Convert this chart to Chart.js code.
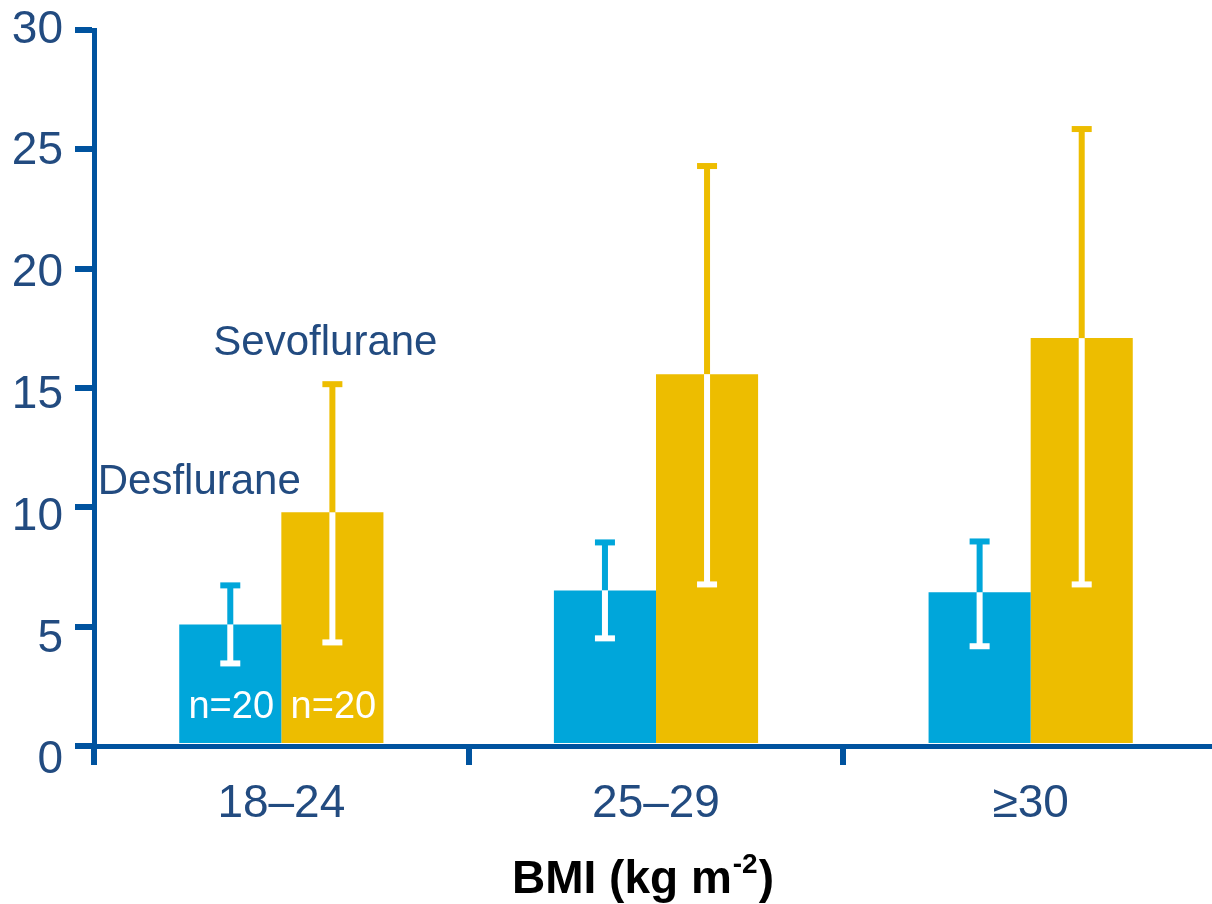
<!DOCTYPE html>
<html>
<head>
<meta charset="utf-8">
<script src="https://cdn.jsdelivr.net/npm/chart.js@4.4.1/dist/chart.umd.min.js"></script>
<style>
  html, body { margin: 0; padding: 0; background: #fff; overflow: hidden; }
  #wrap { width: 1212px; height: 904px; overflow: hidden; }
</style>
</head>
<body>
<div id="wrap"><canvas id="bmi-chart" width="1218" height="904"></canvas></div>
<script>
const categories = ['18–24', '25–29', '≥30'];
const yTicks = [0, 5, 10, 15, 20, 25, 30];
const seriesNames = ['Desflurane', 'Sevoflurane'];

const desMean = [5.09, 6.52, 6.44];
const desHigh = [6.73, 8.53, 8.57];
const desLow = [3.46, 4.51, 4.18];
const desN = [20, null, null];

const sevMean = [9.79, 15.58, 17.09];
const sevHigh = [15.16, 24.30, 25.85];
const sevLow = [4.34, 6.77, 6.77];
const sevN = [20, null, null];

const AXIS = '#00539f';
const TEXT = '#224b80';
const BLUE = '#00a6da';
const YELLOW = '#edbd00';
const FONT = "'Liberation Sans', Arial, sans-serif";

// error bars: coloured above the bar top, white inside the bar
const errorBars = {
    id: 'errorBars',
    afterDatasetsDraw(chart) {
        const c = chart.ctx;
        const y = chart.scales.y;
        chart.data.datasets.forEach((ds, di) => {
            const meta = chart.getDatasetMeta(di);
            meta.data.forEach((bar, i) => {
                const top = bar.y;
                const hi = y.getPixelForValue(ds.high[i]);
                const lo = y.getPixelForValue(ds.low[i]);
                c.save();
                c.fillStyle = ds.backgroundColor;
                c.fillRect(bar.x - 3, hi, 6, top - hi);
                c.fillRect(bar.x - 10, hi - 3, 20, 6);
                c.fillStyle = '#ffffff';
                c.fillRect(bar.x - 3, top, 6, lo - top);
                c.fillRect(bar.x - 10, lo - 3, 20, 6);
                c.restore();
            });
        });
    }
};

const notes = {
    id: 'notes',
    afterDraw(chart) {
        const c = chart.ctx;
        const y = chart.scales.y;
        const b0 = chart.getDatasetMeta(0).data[0];
        const b1 = chart.getDatasetMeta(1).data[0];
        c.save();
        c.fillStyle = TEXT;
        c.textAlign = 'center';
        c.textBaseline = 'alphabetic';
        c.font = `42px ${FONT}`;
        c.fillText(seriesNames[0], b0.x - 31, y.getPixelForValue(10.55));
        c.fillText(seriesNames[1], b1.x - 7, y.getPixelForValue(16.37));

        // sample sizes inside the bars
        c.fillStyle = '#ffffff';
        c.font = `38px ${FONT}`;
        chart.data.datasets.forEach((ds, di) => {
            chart.getDatasetMeta(di).data.forEach((bar, i) => {
                if (ds.n[i] == null) return;
                c.fillText('n=' + ds.n[i], bar.x + 1, y.bottom - 28);
            });
        });

        // axis title with superscript
        const main = 'BMI (kg m', sup = '-2', end = ')';
        c.fillStyle = '#000000';
        c.textAlign = 'left';
        c.font = `bold 46px ${FONT}`;
        const wMain = c.measureText(main).width;
        const wEnd = c.measureText(end).width;
        c.font = `bold 28px ${FONT}`;
        const wSup = c.measureText(sup).width;
        let x = 642 - (wMain + wSup + wEnd) / 2;
        const base = 893;
        c.font = `bold 46px ${FONT}`;
        c.fillText(main, x, base);
        x += wMain;
        c.font = `bold 28px ${FONT}`;
        c.fillText(sup, x + 1, base - 20);
        x += wSup + 2;
        c.font = `bold 46px ${FONT}`;
        c.fillText(end, x, base);
        c.restore();
    }
};

const ctx = document.getElementById('bmi-chart').getContext('2d');
new Chart(ctx, {
    type: 'bar',
    data: {
        labels: categories,
        datasets: [
            { label: seriesNames[0], data: desMean, high: desHigh, low: desLow, n: desN, backgroundColor: BLUE, categoryPercentage: 0.545, barPercentage: 1.0 },
            { label: seriesNames[1], data: sevMean, high: sevHigh, low: sevLow, n: sevN, backgroundColor: YELLOW, categoryPercentage: 0.545, barPercentage: 1.0 }
        ]
    },
    options: {
        responsive: false,
        animation: false,
        layout: { padding: { top: 30, right: 0, left: 0, bottom: 0 } },
        plugins: { legend: { display: false }, tooltip: { enabled: false } },
        scales: {
            x: {
                z: 1,
                offset: true,
                grid: { offset: true, drawOnChartArea: false, color: AXIS, lineWidth: 6, tickLength: 19 },
                border: { color: AXIS, width: 5 },
                ticks: { color: TEXT, font: { family: FONT, size: 46 }, padding: 12, maxRotation: 0 },
                afterFit: s => { s.height = 158; s.paddingLeft = 0; s.paddingRight = 0; }
            },
            // value axis: line and tick marks only
            y: {
                min: 0, max: 30,
                weight: 0,
                afterBuildTicks: s => { s.ticks = yTicks.map(v => ({ value: v })); },
                grid: { drawOnChartArea: false, color: AXIS, lineWidth: 6, tickLength: 19 },
                border: { color: AXIS, width: 5 },
                ticks: { display: false },
                afterFit: s => { s.width = 19; s.paddingTop = 0; s.paddingBottom = 0; }
            },
            // tick numbers: in the original they drift slightly lower than the marks
            yLabels: {
                type: 'linear',
                position: 'left',
                weight: 1,
                min: 0.6, max: 30,
                afterBuildTicks: s => { s.ticks = yTicks.map(v => ({ value: v })); },
                grid: { display: false, drawTicks: false },
                border: { display: false },
                ticks: { color: TEXT, font: { family: FONT, size: 46 }, padding: 12 },
                afterFit: s => { s.width = 75; s.paddingTop = 0; s.paddingBottom = 0; }
            }
        }
    },
    plugins: [errorBars, notes]
});
</script>
</body>
</html>
